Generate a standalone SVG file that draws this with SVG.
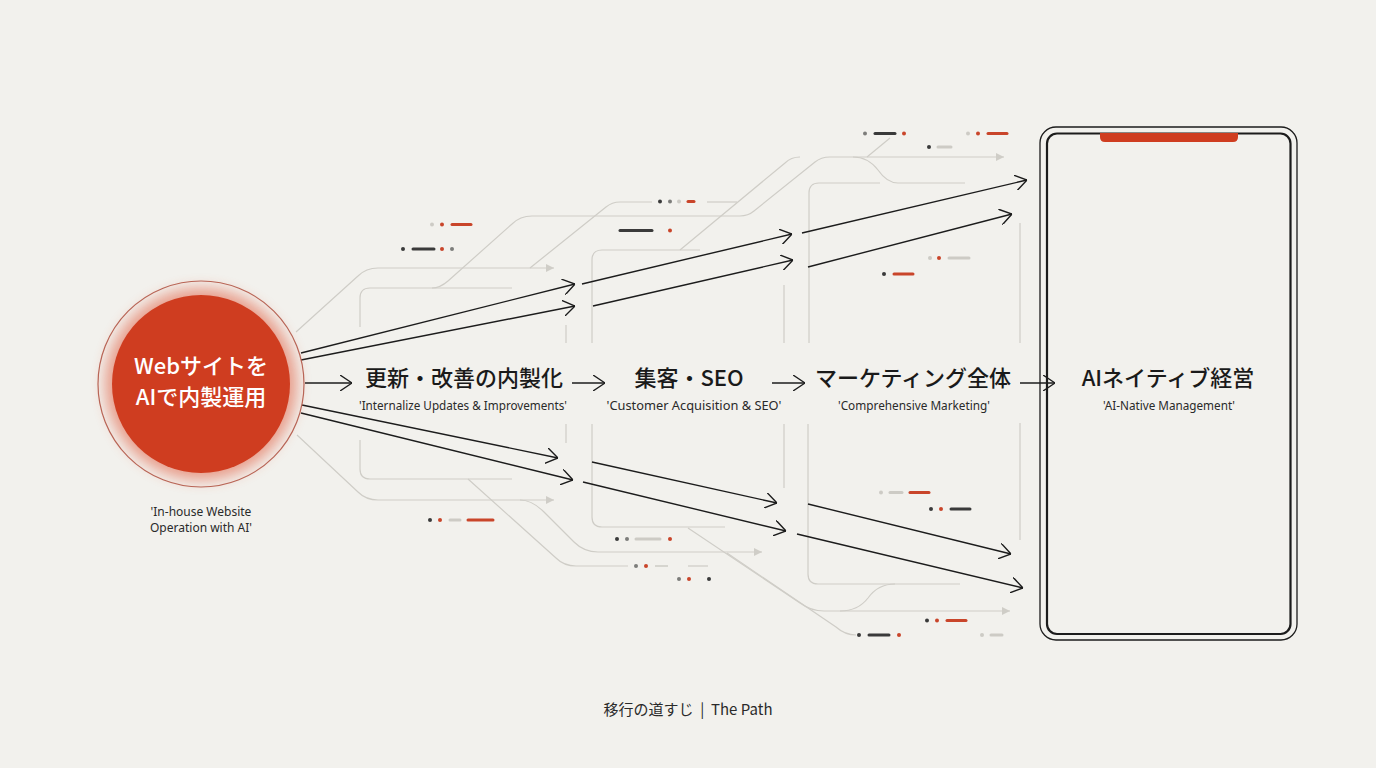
<svg xmlns="http://www.w3.org/2000/svg" width="1376" height="768" viewBox="0 0 1376 768">
<defs>
<style>
.bg{fill:#f2f1ed}
.g{fill:none;stroke:#cfcdc7;stroke-width:1.2}
.k{fill:none;stroke:#1c1c1c;stroke-width:1.4}
.jp{font-family:"Noto Sans CJK JP","Noto Sans",sans-serif;fill:#1a1a1a;text-anchor:middle}
.en{font-family:"Noto Sans","Liberation Sans",sans-serif;fill:#2a2a2a;text-anchor:middle;font-size:12px}
.dk{fill:#3a3a3a}.rd{fill:#c9452a}.lt{fill:#cdcbc5}.md{fill:#7d7d7a}
.dkl{stroke:#3a3a3a}.rdl{stroke:#c9452a}.ltl{stroke:#cdcbc5}
.dash{stroke-width:3;stroke-linecap:round}
</style>
<marker id="chev" viewBox="0 0 12 16" refX="12" refY="8" markerWidth="12" markerHeight="16" markerUnits="userSpaceOnUse" orient="auto">
<path d="M0,0 L12,8 L0,16" fill="none" stroke="#1c1c1c" stroke-width="1.4"/>
</marker>
<marker id="tri" viewBox="0 0 8 8" refX="8" refY="4" markerWidth="8" markerHeight="8" markerUnits="userSpaceOnUse" orient="auto">
<path d="M0,0 L8,4 L0,8 Z" fill="#cfcdc7"/>
</marker>
<filter id="glow" x="-50%" y="-50%" width="200%" height="200%">
<feGaussianBlur stdDeviation="7"/>
</filter>
</defs>
<rect class="bg" x="0" y="0" width="1376" height="768"/>

<g id="connectors">
<!-- light gray background tracks (top) -->
<path class="g" d="M296,332 L358,276 Q366,268 378,268 L554,268" marker-end="url(#tri)"/>
<path class="g" d="M360,327 L360,298 Q360,288 370,288 L512,288"/>
<path class="g" d="M432,288 Q440,288 448,281 L512,224 Q520,216 532,216 L740,216 Q748,216 754,211 L815,162 Q821,157 830,157 L1004,157" marker-end="url(#tri)"/>
<path class="g" d="M530,268 L606,207 Q612,202 620,202 L652,202"/>
<path class="g" d="M707,202 L737,202"/>
<path class="g" d="M592,343 L592,260 Q592,250 602,250 L700,250"/>
<path class="g" d="M680,250 L785,163 Q791,157 800,157"/>
<path class="g" d="M890,138 L867,157"/>
<path class="g" d="M853,157 Q868,157 878,170 Q887,183 898,183 L965,183"/>
<path class="g" d="M809,343 L809,193 Q809,183 819,183 L880,183"/>
<path class="g" d="M566,325 L566,343"/>
<path class="g" d="M784,285 L784,343"/>
<path class="g" d="M1020,223 L1020,343"/>
<!-- light gray background tracks (bottom) -->
<path class="g" d="M297,435 L358,492 Q366,500 378,500 L554,500" marker-end="url(#tri)"/>
<path class="g" d="M360,440 L360,469 Q360,479 370,479 L512,479"/>
<path class="g" d="M468,479 L556,558 Q564,566 576,566 L628,566"/>
<path class="g" d="M520,500 Q532,500 544,512 L574,542 Q584,552 598,552 L762,552" marker-end="url(#tri)"/>
<path class="g" d="M592,424 L592,517 Q592,527 602,527 L725,527"/>
<path class="g" d="M688,528 L800,603 Q811,611 824,611 L1010,611" marker-end="url(#tri)"/>
<path class="g" d="M727,553 L836,627 Q845,635 856,635"/>
<path class="g" d="M808,424 L808,574 Q808,584 818,584 L960,584"/>
<path class="g" d="M840,611 Q858,611 868,598 Q878,584 895,584"/>
<path class="g" d="M566,424 L566,443"/>
<path class="g" d="M784,424 L784,488"/>
<path class="g" d="M1020,423 L1020,540"/>

<!-- main flow arrows -->
<path class="k" d="M305,383 L352,383" marker-end="url(#chev)"/>
<path class="k" d="M572,383 L605,383" marker-end="url(#chev)"/>
<path class="k" d="M772,383 L805,383" marker-end="url(#chev)"/>
<path class="k" d="M1020,383 L1055,383" marker-end="url(#chev)"/>

<!-- upper diagonal arrows -->
<path class="k" d="M301,353 L575,284" marker-end="url(#chev)"/>
<path class="k" d="M582,284 L792,234" marker-end="url(#chev)"/>
<path class="k" d="M802,233 L1027,180" marker-end="url(#chev)"/>
<path class="k" d="M301,360 L575,306" marker-end="url(#chev)"/>
<path class="k" d="M593,306 L793,260" marker-end="url(#chev)"/>
<path class="k" d="M808,267 L1012,214" marker-end="url(#chev)"/>
<!-- lower diagonal arrows -->
<path class="k" d="M302,405 L558,458" marker-end="url(#chev)"/>
<path class="k" d="M592,462 L777,503" marker-end="url(#chev)"/>
<path class="k" d="M808,504 L1011,554" marker-end="url(#chev)"/>
<path class="k" d="M301,413 L573,480" marker-end="url(#chev)"/>
<path class="k" d="M583,482 L786,531" marker-end="url(#chev)"/>
<path class="k" d="M797,534 L1023,588" marker-end="url(#chev)"/>
</g>

<g id="decor">
<circle class="lt" cx="432" cy="224.5" r="2"/><circle class="rd" cx="442" cy="224.5" r="2"/><line class="rdl dash" x1="452" y1="224.5" x2="471" y2="224.5"/>
<circle class="dk" cx="403" cy="249" r="2"/><line class="dkl dash" x1="413" y1="249" x2="434" y2="249"/><circle class="rd" cx="442" cy="249" r="2"/><circle class="md" cx="452" cy="249" r="2"/>
<circle class="dk" cx="660" cy="201.5" r="2"/><circle class="md" cx="670" cy="201.5" r="2"/><circle class="lt" cx="679" cy="201.5" r="2"/><line class="rdl dash" x1="688" y1="201.5" x2="694" y2="201.5"/>
<line class="dkl dash" x1="620" y1="230.5" x2="652" y2="230.5"/><circle class="rd" cx="670" cy="230.5" r="2"/>
<circle class="md" cx="865" cy="133.5" r="2"/><line class="dkl dash" x1="875" y1="133.5" x2="895" y2="133.5"/><circle class="rd" cx="904" cy="133.5" r="2"/>
<circle class="lt" cx="968" cy="133.5" r="2"/><circle class="rd" cx="978" cy="133.5" r="2"/><line class="rdl dash" x1="988" y1="133.5" x2="1007" y2="133.5"/>
<circle class="dk" cx="929" cy="147" r="2"/><line class="ltl dash" x1="938" y1="147" x2="951" y2="147"/>
<circle class="lt" cx="930" cy="258" r="2"/><circle class="rd" cx="939" cy="258" r="2"/><line class="ltl dash" x1="949" y1="258" x2="969" y2="258"/>
<circle class="dk" cx="884" cy="274" r="2"/><line class="rdl dash" x1="894" y1="274" x2="913" y2="274"/>
<circle class="dk" cx="430" cy="520" r="2"/><circle class="rd" cx="440" cy="520" r="2"/><line class="ltl dash" x1="450" y1="520" x2="460" y2="520"/><line class="rdl dash" x1="468" y1="520" x2="493" y2="520"/>
<circle class="dk" cx="617" cy="539" r="2"/><circle class="md" cx="627" cy="539" r="2"/><line class="ltl dash" x1="636" y1="539" x2="660" y2="539"/><circle class="rd" cx="670" cy="539" r="2"/>
<circle class="md" cx="636" cy="566" r="2"/><circle class="rd" cx="646" cy="566" r="2"/><line class="ltl" x1="655" y1="566" x2="668" y2="566" stroke-width="1.5"/><line class="ltl" x1="688" y1="566" x2="708" y2="566" stroke-width="1.2"/>
<circle class="md" cx="679" cy="579" r="2"/><circle class="rd" cx="689" cy="579" r="2"/><circle class="dk" cx="709" cy="579" r="2"/>
<circle class="lt" cx="881" cy="492.5" r="2"/><line class="ltl dash" x1="890" y1="492.5" x2="902" y2="492.5"/><line class="rdl dash" x1="910" y1="492.5" x2="929" y2="492.5"/>
<circle class="dk" cx="931" cy="509" r="2"/><circle class="rd" cx="941" cy="509" r="2"/><line class="dkl dash" x1="951" y1="509" x2="970" y2="509"/>
<circle class="dk" cx="927" cy="620.5" r="2"/><circle class="rd" cx="937" cy="620.5" r="2"/><line class="rdl dash" x1="947" y1="620.5" x2="966" y2="620.5"/>
<circle class="dk" cx="859" cy="635" r="2"/><line class="dkl dash" x1="869" y1="635" x2="889" y2="635"/><circle class="rd" cx="899" cy="635" r="2"/>
<circle class="lt" cx="982" cy="635" r="2"/><line class="ltl dash" x1="991" y1="635" x2="1002" y2="635"/>
</g>

<g id="node-source">
<circle cx="201" cy="384" r="96" fill="#e0583a" opacity="0.55" filter="url(#glow)"/>
<circle cx="201" cy="384" r="103" fill="none" stroke="#b86455" stroke-width="1.2"/>
<circle cx="201" cy="384" r="89" fill="#cf3d20"/>
<text class="jp" x="201" y="374" font-size="22" font-weight="500" style="fill:#ffffff">Webサイトを</text>
<text class="jp" x="201" y="405" font-size="22" font-weight="500" style="fill:#ffffff">AIで内製運用</text>
<text class="en" x="201" y="516">'In-house Website</text>
<text class="en" x="201" y="532">Operation with AI'</text>
</g>

<g id="node-step1">
<text class="jp" x="464" y="386" font-size="22" font-weight="500">更新・改善の内製化</text>
<text class="en" x="463" y="410" textLength="208" lengthAdjust="spacingAndGlyphs">'Internalize Updates &amp; Improvements'</text>
</g>

<g id="node-step2">
<text class="jp" x="689" y="386" font-size="22" font-weight="500">集客・SEO</text>
<text class="en" x="694" y="410" textLength="175" lengthAdjust="spacingAndGlyphs">'Customer Acquisition &amp; SEO'</text>
</g>

<g id="node-step3">
<text class="jp" x="913" y="386" font-size="22" font-weight="500">マーケティング全体</text>
<text class="en" x="914" y="410" textLength="152" lengthAdjust="spacingAndGlyphs">'Comprehensive Marketing'</text>
</g>

<g id="node-target">
<rect x="1040" y="127" width="257" height="513" rx="16" fill="none" stroke="#1c1c1c" stroke-width="1.3"/>
<rect x="1047" y="133.5" width="243.5" height="500.5" rx="10" fill="none" stroke="#1c1c1c" stroke-width="2.2"/>
<path d="M1100,133 L1238,133 L1238,137 Q1238,142 1233,142 L1105,142 Q1100,142 1100,137 Z" fill="#cf3d20"/>
<text class="jp" x="1168" y="386" font-size="22" font-weight="500">AIネイティブ経営</text>
<text class="en" x="1169" y="410" textLength="132" lengthAdjust="spacingAndGlyphs">'AI-Native Management'</text>
</g>

<g id="caption">
<text class="jp" x="688" y="715" font-size="15" xml:space="preserve" style="fill:#2a2a2a">移行の道すじ  |  The Path</text>
</g>
</svg>
